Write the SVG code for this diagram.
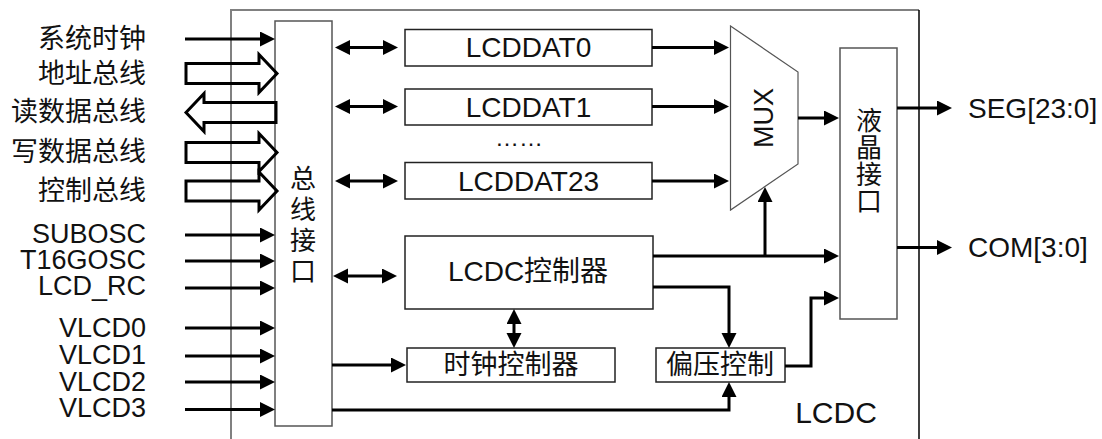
<svg xmlns="http://www.w3.org/2000/svg" width="1102" height="439" viewBox="0 0 1102 439">
<style>
text{font-family:"Liberation Sans","Noto Sans CJK SC",sans-serif;fill:#111;dominant-baseline:central}
.lbl{font-size:27px;text-anchor:end}
.c{text-anchor:middle;font-size:27px}
.box{fill:#fff;stroke:#222;stroke-width:1.5}
.gbox{fill:#fff;stroke:#555;stroke-width:1.5}
.w{fill:none;stroke:#000;stroke-width:3}
.a{fill:none;stroke:#000;stroke-width:3;marker-end:url(#ah)}
.d{fill:none;stroke:#000;stroke-width:3;marker-end:url(#ah);marker-start:url(#ah)}
.bus{fill:none;stroke:#000;stroke-width:3;stroke-linejoin:miter}
</style>
<defs>
<marker id="ah" markerUnits="userSpaceOnUse" markerWidth="16" markerHeight="16" refX="7" refY="7.5" orient="auto-start-reverse">
<path d="M0,0 L15,7.5 L0,15 z" fill="#000"/>
</marker>
</defs>
<g id="frame">
<path d="M231,439 V10 H919" fill="none" stroke="#808080" stroke-width="2"/>
<path d="M919,10 V439" fill="none" stroke="#000" stroke-width="1.5"/>
<text x="836" y="412" style="font-size:30px;text-anchor:middle">LCDC</text>
</g>
<g id="inputs">
<text class="lbl" x="146" y="39">系统时钟</text>
<text class="lbl" x="146" y="74">地址总线</text>
<text class="lbl" x="146" y="112">读数据总线</text>
<text class="lbl" x="146" y="152">写数据总线</text>
<text class="lbl" x="146" y="191">控制总线</text>
<text class="lbl" x="146" y="234">SUBOSC</text>
<text class="lbl" x="146" y="260">T16GOSC</text>
<text class="lbl" x="146" y="286">LCD_RC</text>
<text class="lbl" x="146" y="328">VLCD0</text>
<text class="lbl" x="146" y="355">VLCD1</text>
<text class="lbl" x="146" y="382">VLCD2</text>
<text class="lbl" x="146" y="408">VLCD3</text>
</g>
<g id="bus_if">
<rect class="gbox" x="275" y="21" width="57" height="405"/>
<text class="c" x="303" y="179" style="font-size:26px">总</text>
<text class="c" x="303" y="210" style="font-size:26px">线</text>
<text class="c" x="303" y="241" style="font-size:26px">接</text>
<text class="c" x="303" y="272" style="font-size:26px">口</text>
</g>
<g id="lcddat0"><rect class="box" x="405" y="29.5" width="247" height="36.5"/><text class="c" x="528.5" y="47.5" style="font-size:28px">LCDDAT0</text></g>
<g id="lcddat1"><rect class="box" x="405" y="89" width="247" height="36"/><text class="c" x="528.5" y="107" style="font-size:28px">LCDDAT1</text></g>
<g id="dots"><text x="519" y="137" style="font-size:24px;text-anchor:middle">……</text></g>
<g id="lcddat23"><rect class="box" x="405" y="162.5" width="247" height="36.5"/><text class="c" x="528.5" y="181" style="font-size:28px">LCDDAT23</text></g>
<g id="mux">
<path d="M730.5,26 L798,72 L798,164 L730.5,210 Z" fill="#fff" stroke="#555" stroke-width="1.2"/>
<text class="c" transform="translate(764,118) rotate(-90)" x="0" y="0">MUX</text>
</g>
<g id="lcd_if">
<rect class="gbox" x="840" y="48" width="57" height="271"/>
<text class="c" x="869" y="121" style="font-size:26px">液</text>
<text class="c" x="869" y="148" style="font-size:26px">晶</text>
<text class="c" x="869" y="175" style="font-size:26px">接</text>
<text class="c" x="869" y="202" style="font-size:26px">口</text>
</g>
<g id="lcdc_ctrl"><rect class="box" x="405" y="236" width="248" height="73"/><text class="c" x="528" y="271" style="font-size:28px">LCDC控制器</text></g>
<g id="clk_ctrl"><rect class="box" x="407" y="348" width="208" height="34"/><text class="c" x="511" y="365">时钟控制器</text></g>
<g id="bias_ctrl"><rect class="box" x="656" y="348" width="129" height="34"/><text class="c" x="720" y="365">偏压控制</text></g>
<g id="outputs">
<text x="968" y="108" style="font-size:28px">SEG[23:0]</text>
<text x="968" y="247" style="font-size:28px">COM[3:0]</text>
</g>
<g id="connectors">
<path class="a" d="M185,39 H267"/>
<path class="bus" d="M186,63.5 H259 V54.5 L277,73.5 L259,92.5 V83.5 H186 Z"/>
<path class="bus" d="M186,112.5 L204,93.5 V102.5 H276 V122.5 H204 V131.5 Z"/>
<path class="bus" d="M186,142.5 H259 V133.5 L277,152.5 L259,171.5 V162.5 H186 Z"/>
<path class="bus" d="M186,181 H259 V172 L277,191 L259,210 V201 H186 Z"/>
<path class="a" d="M185,235 H267"/>
<path class="a" d="M185,261 H267"/>
<path class="a" d="M185,288 H267"/>
<path class="a" d="M185,328 H267"/>
<path class="a" d="M185,356 H267"/>
<path class="a" d="M185,382 H267"/>
<path class="a" d="M185,409.5 H267"/>
<path class="d" d="M343,47.5 H390"/>
<path class="d" d="M343,106.5 H390"/>
<path class="d" d="M343,181 H390"/>
<path class="d" d="M341,276 H389"/>
<path class="a" d="M652,47.5 H721"/>
<path class="a" d="M652,106.5 H721"/>
<path class="a" d="M652,181 H721"/>
<path class="a" d="M798,118 H831"/>
<path class="a" d="M897,108 H944"/>
<path class="a" d="M897,247.5 H944"/>
<path class="a" d="M653,256 H831"/>
<path class="a" d="M765,256 V195"/>
<path class="a" d="M653,287 H729 V340"/>
<path class="a" d="M785,366 H811 V298 H831"/>
<path class="d" d="M514,317 V340"/>
<path class="a" d="M332,365 H398"/>
<path class="a" d="M332,410 H729 V390"/>
</g>
</svg>
